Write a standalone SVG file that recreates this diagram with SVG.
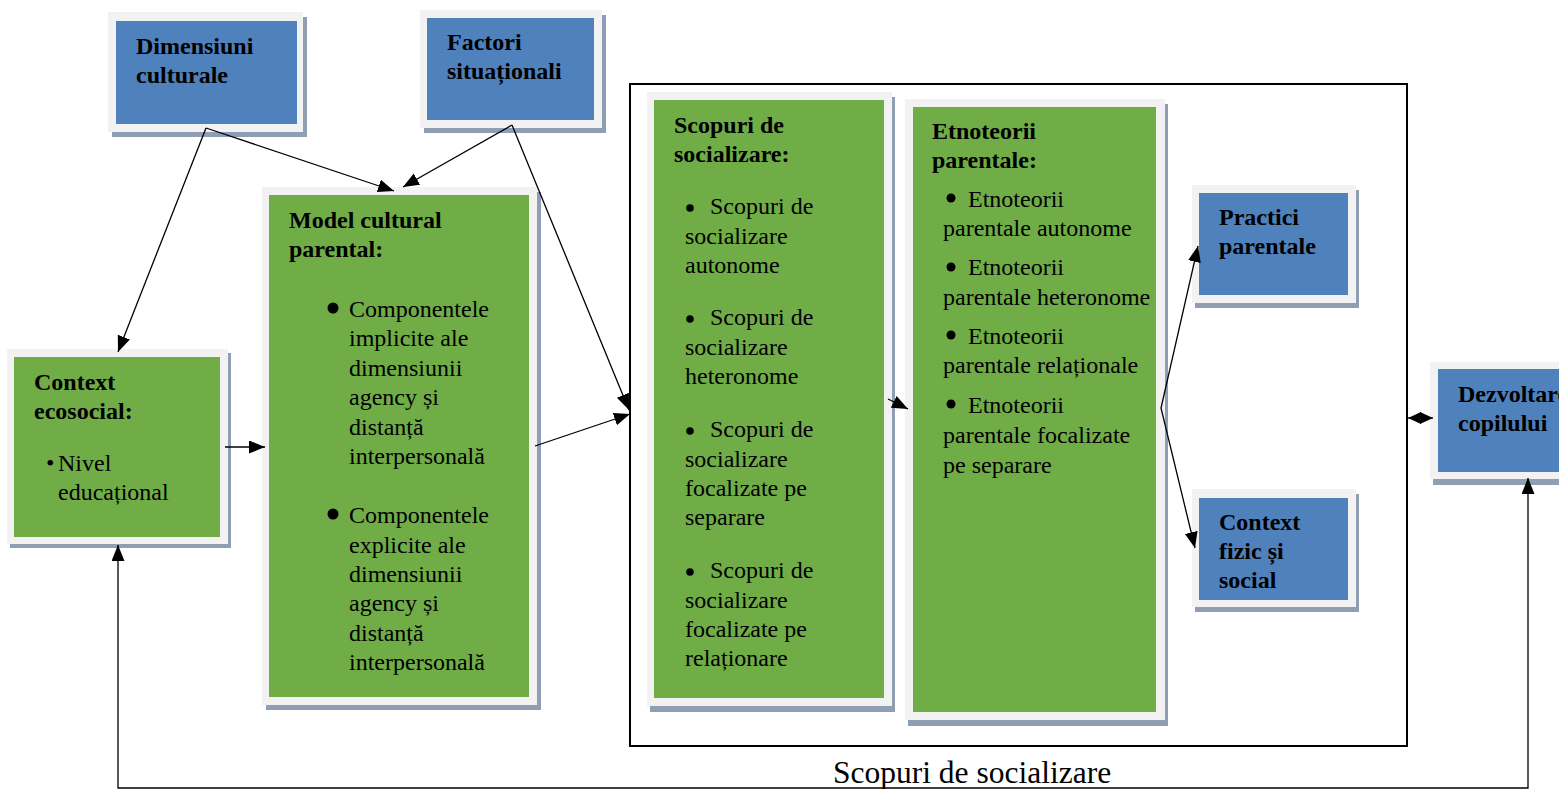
<svg xmlns="http://www.w3.org/2000/svg" width="1559" height="789" viewBox="0 0 1559 789">
<style>
.sh{fill:#909eb4}
.fr{fill:#f2f2f2}
.bl{fill:#4f81bd}
.gr{fill:#70ad47}
text{font-family:"Liberation Serif","Times New Roman",serif;font-size:24px;fill:#000}
.b{font-weight:bold}
.c{fill:none;stroke:#000;stroke-width:1.3}
.big{fill:none;stroke:#000;stroke-width:2}
</style>
<defs>
<marker id="ah" markerUnits="userSpaceOnUse" markerWidth="18" markerHeight="14" refX="16" refY="6.5" orient="auto-start-reverse">
<path d="M0,0 L16,6.5 L0,13 z" fill="#000"/>
</marker>
<marker id="ah2" markerUnits="userSpaceOnUse" markerWidth="14" markerHeight="12" refX="13" refY="6" orient="auto-start-reverse">
<path d="M0,0 L13,6 L0,12 z" fill="#000"/>
</marker>
</defs>
<rect class="big" x="630" y="84" width="777" height="662"/>
<g id="dimensiuni">
<rect class="sh" x="112" y="17" width="195" height="120"/>
<rect class="fr" x="108" y="12" width="195" height="120"/>
<rect class="bl" x="116" y="21" width="181" height="103"/>
<text class="b" x="136" y="54">Dimensiuni</text>
<text class="b" x="136" y="83">culturale</text>
</g>
<g id="factori">
<rect class="sh" x="424" y="15" width="182" height="118"/>
<rect class="fr" x="420" y="10" width="182" height="118"/>
<rect class="bl" x="427" y="18" width="167" height="102"/>
<text class="b" x="447" y="50">Factori</text>
<text class="b" x="447" y="79">situaționali</text>
</g>
<g id="context-ecosocial">
<rect class="sh" x="10" y="353" width="221" height="195"/>
<rect class="fr" x="7" y="349" width="221" height="195"/>
<rect class="gr" x="14" y="357" width="206" height="180"/>
<text class="b" x="34" y="390">Context</text>
<text class="b" x="34" y="419">ecosocial:</text>
<text x="46" y="471">•<tspan x="58">Nivel</tspan></text>
<text x="58" y="500">educațional</text>
</g>
<g id="model-cultural">
<rect class="sh" x="266" y="192" width="275" height="518"/>
<rect class="fr" x="262" y="187" width="275" height="518"/>
<rect class="gr" x="269" y="195" width="260" height="502"/>
<text class="b" x="289" y="228">Model cultural</text>
<text class="b" x="289" y="257">parental:</text>
<circle cx="333" cy="308" r="5.5"/>
<text x="349" y="317">Componentele</text>
<text x="349" y="346">implicite ale</text>
<text x="349" y="376">dimensiunii</text>
<text x="349" y="405">agency și</text>
<text x="349" y="435">distanță</text>
<text x="349" y="464">interpersonală</text>
<circle cx="333" cy="514" r="5.5"/>
<text x="349" y="523">Componentele</text>
<text x="349" y="553">explicite ale</text>
<text x="349" y="582">dimensiunii</text>
<text x="349" y="611">agency și</text>
<text x="349" y="641">distanță</text>
<text x="349" y="670">interpersonală</text>
</g>
<g id="scopuri">
<rect class="sh" x="650" y="97" width="245" height="615"/>
<rect class="fr" x="647" y="92" width="245" height="614"/>
<rect class="gr" x="654" y="100" width="230" height="598"/>
<text class="b" x="674" y="133">Scopuri de</text>
<text class="b" x="674" y="162">socializare:</text>
<circle cx="690" cy="208" r="3.8"/>
<text x="710" y="214">Scopuri de</text>
<text x="685" y="244">socializare</text>
<text x="685" y="273">autonome</text>
<circle cx="690" cy="319" r="3.8"/>
<text x="710" y="325">Scopuri de</text>
<text x="685" y="355">socializare</text>
<text x="685" y="384">heteronome</text>
<circle cx="690" cy="431" r="3.8"/>
<text x="710" y="437">Scopuri de</text>
<text x="685" y="467">socializare</text>
<text x="685" y="496">focalizate pe</text>
<text x="685" y="525">separare</text>
<circle cx="690" cy="572" r="3.8"/>
<text x="710" y="578">Scopuri de</text>
<text x="685" y="608">socializare</text>
<text x="685" y="637">focalizate pe</text>
<text x="685" y="666">relaționare</text>
</g>
<g id="etnoteorii">
<rect class="sh" x="908" y="104" width="260" height="622"/>
<rect class="fr" x="905" y="99" width="260" height="621"/>
<rect class="gr" x="913" y="107" width="243" height="605"/>
<text class="b" x="932" y="139">Etnoteorii</text>
<text class="b" x="932" y="168">parentale:</text>
<circle cx="951" cy="198" r="4.5"/>
<text x="968" y="207">Etnoteorii</text>
<text x="943" y="236">parentale autonome</text>
<circle cx="951" cy="267" r="4.5"/>
<text x="968" y="275">Etnoteorii</text>
<text x="943" y="305">parentale heteronome</text>
<circle cx="951" cy="335" r="4.5"/>
<text x="968" y="344">Etnoteorii</text>
<text x="943" y="373">parentale relaționale</text>
<circle cx="951" cy="404" r="4.5"/>
<text x="968" y="413">Etnoteorii</text>
<text x="943" y="443">parentale focalizate</text>
<text x="943" y="473">pe separare</text>
</g>
<g id="practici">
<rect class="sh" x="1195" y="190" width="164" height="118"/>
<rect class="fr" x="1192" y="185" width="164" height="118"/>
<rect class="bl" x="1199" y="193" width="149" height="102"/>
<text class="b" x="1219" y="225">Practici</text>
<text class="b" x="1219" y="254">parentale</text>
</g>
<g id="context-fizic">
<rect class="sh" x="1195" y="494" width="164" height="118"/>
<rect class="fr" x="1192" y="489" width="164" height="118"/>
<rect class="bl" x="1199" y="498" width="149" height="102"/>
<text class="b" x="1219" y="530">Context</text>
<text class="b" x="1219" y="559">fizic și</text>
<text class="b" x="1219" y="588">social</text>
</g>
<g id="dezvoltarea">
<rect class="sh" x="1433" y="367" width="140" height="118"/>
<rect class="fr" x="1430" y="362" width="140" height="117"/>
<rect class="bl" x="1438" y="369" width="130" height="103"/>
<text class="b" x="1458" y="402">Dezvoltarea</text>
<text class="b" x="1458" y="431">copilului</text>
</g>
<text x="833" y="783" style="font-size:31.5px">Scopuri de socializare</text>
<g id="connectors">
<line class="c" x1="206" y1="128" x2="118" y2="352" marker-end="url(#ah)"/>
<line class="c" x1="206" y1="128" x2="394" y2="191" marker-end="url(#ah)"/>
<line class="c" x1="512" y1="125" x2="403" y2="187" marker-end="url(#ah)"/>
<line class="c" x1="512" y1="125" x2="629" y2="410" marker-end="url(#ah)"/>
<line class="c" x1="225" y1="447" x2="265" y2="447" marker-end="url(#ah)"/>
<line class="c" x1="535" y1="446" x2="630" y2="414" marker-end="url(#ah)"/>
<line class="c" x1="888" y1="399" x2="908" y2="409" marker-end="url(#ah)"/>
<polyline class="c" points="1198,246 1161,408 1195,548" marker-start="url(#ah)" marker-end="url(#ah)"/>
<line class="c" x1="1408" y1="418" x2="1433" y2="418" marker-start="url(#ah2)" marker-end="url(#ah2)"/>
<polyline class="c" points="118,545 118,788 1528,788 1528,478" marker-start="url(#ah)" marker-end="url(#ah)"/>
</g>
</svg>
